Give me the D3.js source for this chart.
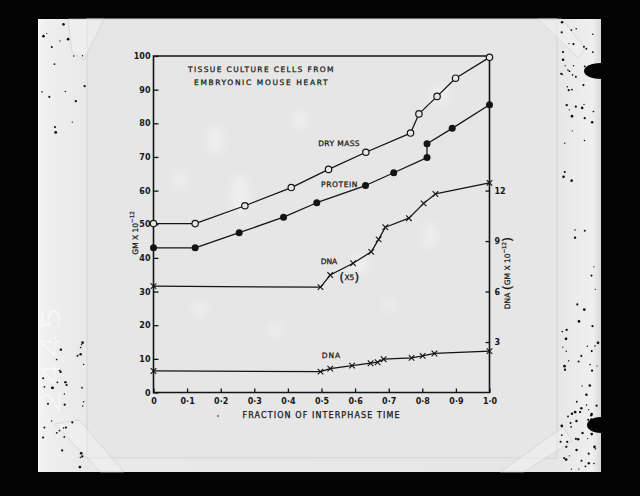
<!DOCTYPE html>
<html>
<head>
<meta charset="utf-8">
<script src="https://cdn.jsdelivr.net/npm/d3@7"></script>
<style>
  html, body { margin: 0; padding: 0; background: #000; }
  svg { display: block; }
  text { font-family: "DejaVu Sans", sans-serif; fill: #161616; }
  .lettering { stroke: #161616; stroke-width: 0.25px; }
</style>
</head>
<body>
<svg id="chart" width="640" height="496"></svg>
<script>
// Fraction of interphase time (x) and mass in GM x 10^-12 (y)
const dryMassT = [0, 0.124, 0.272, 0.41, 0.521, 0.632, 0.765, 0.79, 0.844, 0.899, 1.0];
const dryMassV = [50.2, 50.2, 55.5, 60.9, 66.3, 71.4, 77.1, 82.8, 88.0, 93.4, 99.6];

const proteinT = [0, 0.124, 0.255, 0.387, 0.486, 0.631, 0.715, 0.814, 0.814, 0.889, 1.0];
const proteinV = [43.0, 43.0, 47.5, 52.1, 56.4, 61.5, 65.3, 69.8, 73.9, 78.5, 85.5];

// DNA (x5) curve, read against the right-hand axis
const dnaX5T = [0, 0.497, 0.526, 0.594, 0.648, 0.67, 0.69, 0.76, 0.804, 0.839, 1.0];
const dnaX5V = [6.32, 6.26, 6.98, 7.68, 8.36, 9.10, 9.82, 10.36, 11.24, 11.80, 12.46];

// DNA curve, read against the left-hand axis
const dnaT = [0, 0.497, 0.526, 0.591, 0.646, 0.667, 0.685, 0.768, 0.801, 0.836, 1.0];
const dnaV = [6.4, 6.2, 7.1, 8.0, 8.7, 9.0, 9.9, 10.3, 10.9, 11.6, 12.3];

const xTicks = [0, 0.1, 0.2, 0.3, 0.4, 0.5, 0.6, 0.7, 0.8, 0.9, 1.0];
const leftTicks = [0, 10, 20, 30, 40, 50, 60, 70, 80, 90, 100];
const rightTicks = [3, 6, 9, 12];

const titleLines = ["TISSUE CULTURE CELLS FROM", "EMBRYONIC MOUSE HEART"];
const xTitle = "FRACTION OF INTERPHASE TIME";

const svg = d3.select("#chart");
const ink = "#141414";
const card = "#e6e6e6";

// ---------- photographic mount ----------
const defs = svg.append("defs");
const edge = defs.append("linearGradient").attr("id", "edge").attr("x1", 0).attr("x2", 1);
[[0, "#f6f6f6"], [0.015, "#efefef"], [0.08, "#e9e9e9"], [0.92, "#e6e6e6"], [0.985, "#efefef"], [1, "#d8d8d8"]]
  .forEach(([o, c]) => edge.append("stop").attr("offset", o).attr("stop-color", c));
defs.append("filter").attr("id", "soft").attr("x", "-50%").attr("y", "-50%").attr("width", "200%").attr("height", "200%")
  .append("feGaussianBlur").attr("stdDeviation", 4);
defs.append("filter").attr("id", "tiny")
  .append("feGaussianBlur").attr("stdDeviation", 0.35);

svg.append("rect").attr("width", 640).attr("height", 496).attr("fill", "#030303");
svg.append("rect").attr("x", 38).attr("y", 19).attr("width", 563).attr("height", 453).attr("fill", "url(#edge)");
// inner card
svg.append("rect").attr("x", 87).attr("y", 19).attr("width", 470).attr("height", 439)
  .attr("fill", card).attr("stroke", "#d4d4d4").attr("stroke-width", 1);

// tape pieces at the corners
const tape = svg.append("g").attr("fill", "#f4f4f4").attr("fill-opacity", 0.45)
  .attr("stroke", "#c9c9c9").attr("stroke-width", 0.7).attr("stroke-opacity", 0.8);
tape.append("path").attr("d", "M68,19 L104,19 L84,60 L72,52 Z");
tape.append("path").attr("d", "M538,19 L562,19 L585,48 L578,58 Z");
tape.append("path").attr("d", "M55,424 L79,420 L124,472 L100,472 Z");
tape.append("path").attr("d", "M563,427 L572,441 L524,472 L500,472 Z");

// specks on the side strips (deterministic sequence)
let seed = 7;
const rnd = () => { seed = (seed * 16807) % 2147483647; return (seed - 1) / 2147483646; };
const specks = svg.append("g").attr("fill", "#111").attr("filter", "url(#tiny)");
for (let i = 0; i < 55; i++) {
  const top = rnd() < 0.55;
  const x = 42 + rnd() * 44;
  const y = top ? 24 + rnd() * 110 : 340 + rnd() * 128;
  specks.append("circle").attr("cx", x).attr("cy", y).attr("r", 0.6 + rnd() * 0.8);
}
for (let i = 0; i < 110; i++) {
  const band = rnd();
  const x = 560 + rnd() * 39;
  const y = band < 0.4 ? 22 + rnd() * 110 : (band < 0.55 ? 130 + rnd() * 200 : 320 + rnd() * 150);
  specks.append("circle").attr("cx", x).attr("cy", y).attr("r", 0.6 + rnd() * 0.8);
}
// film-holder notches on the right edge
svg.append("path").attr("d", "M601,63 C590,63 584,67 584,71 C584,75 590,79 601,79 Z").attr("fill", "#030303");
svg.append("path").attr("d", "M601,417 C592,417 587,421 587,425 C587,429 592,433 601,433 Z").attr("fill", "#030303");

// handwritten plate number
svg.append("text")
  .attr("transform", "translate(60,358) rotate(-90) scale(1.6,1)")
  .attr("text-anchor", "middle")
  .attr("font-size", 24)
  .style("letter-spacing", "2px")
  .style("font-family", "'DejaVu Sans', sans-serif")
  .style("font-weight", 200)
  .style("fill", "#fafafa").style("fill-opacity", 0.9)
  .text("2445");

// faint light blotches on the card
const blotches = svg.append("g").attr("fill", "#ffffff").attr("fill-opacity", 0.35).attr("filter", "url(#soft)");
[[215, 140, 8, 14], [240, 195, 10, 18], [300, 120, 7, 10], [200, 310, 6, 9], [275, 330, 6, 8],
 [440, 95, 10, 9], [430, 235, 7, 12], [360, 265, 8, 10], [180, 180, 6, 10], [390, 305, 6, 6]]
  .forEach(([cx, cy, rx, ry]) => blotches.append("ellipse").attr("cx", cx).attr("cy", cy).attr("rx", rx).attr("ry", ry));

// ---------- chart ----------
const x = d3.scaleLinear().domain([0, 1]).range([153.5, 489.5]);
const yL = d3.scaleLinear().domain([0, 100]).range([392.5, 56]);
const yR = d3.scaleLinear().domain([0, 20]).range([392.5, 56]);

const g = svg.append("g");

// frame
g.append("path")
  .attr("d", `M${x(0)},${yL(0)} L${x(0)},${yL(100)} L${x(1)},${yL(100)} L${x(1)},${yL(0)} Z`)
  .attr("fill", "none").attr("stroke", ink).attr("stroke-width", 1.6);

const tickFmt = d => d === 0 ? "0" : d3.format(".1f")(d).replace(".", "·");

const ax = g.append("g").attr("transform", `translate(0,${yL(0)})`)
  .call(d3.axisBottom(x).tickValues(xTicks).tickFormat(tickFmt).tickSize(-4).tickSizeOuter(0).tickPadding(6));
const ayl = g.append("g").attr("transform", `translate(${x(0)},0)`)
  .call(d3.axisLeft(yL).tickValues(leftTicks).tickFormat(d3.format("d")).tickSize(-5).tickSizeOuter(0).tickPadding(3));
const ayr = g.append("g").attr("transform", `translate(${x(1)},0)`)
  .call(d3.axisRight(yR).tickValues(rightTicks).tickFormat(d3.format("d")).tickSize(-4).tickSizeOuter(0).tickPadding(5));
[ax, ayl, ayr].forEach(a => {
  a.select(".domain").remove();
  a.selectAll(".tick line").attr("stroke", ink).attr("stroke-width", 1.3);
  a.selectAll("text").attr("font-size", 8).attr("font-weight", "bold")
    .attr("font-family", "'DejaVu Sans', sans-serif").attr("fill", ink);
});

// series
const series = [
  { t: dryMassT, v: dryMassV, y: yL, mark: "open" },
  { t: proteinT, v: proteinV, y: yL, mark: "dot" },
  { t: dnaX5T, v: dnaX5V, y: yR, mark: "cross" },
  { t: dnaT, v: dnaV, y: yL, mark: "cross" }
];
const line = d3.line();
series.forEach(s => {
  const pts = s.t.map((t, i) => [x(t), s.y(s.v[i])]);
  g.append("path").attr("d", line(pts)).attr("fill", "none")
    .attr("stroke", ink).attr("stroke-width", 1.25).attr("stroke-linejoin", "round");
  const m = g.append("g");
  pts.forEach(([px, py]) => {
    if (s.mark === "open") {
      m.append("circle").attr("cx", px).attr("cy", py).attr("r", 3.2)
        .attr("fill", card).attr("stroke", ink).attr("stroke-width", 1.2);
    } else if (s.mark === "dot") {
      m.append("circle").attr("cx", px).attr("cy", py).attr("r", 3.5).attr("fill", ink);
    } else {
      const h = 2.8;
      m.append("path")
        .attr("d", `M${px - h},${py - h} L${px + h},${py + h} M${px + h},${py - h} L${px - h},${py + h}`)
        .attr("stroke", ink).attr("stroke-width", 1.1);
    }
  });
});

// lettering
function label(t, v, str, len, opts = {}) {
  const el = g.append("text").attr("class", "lettering").attr("x", x(t)).attr("y", yL(v))
    .attr("dominant-baseline", "central")
    .attr("text-anchor", opts.anchor || "start")
    .attr("font-size", opts.size || 7.5)
    .style("letter-spacing", "0.5px")
    .text(str);
  if (len) el.attr("textLength", len).attr("lengthAdjust", "spacing");
  return el;
}
label(0.32, 96.0, titleLines[0], 146, { anchor: "middle" });
label(0.32, 92.05, titleLines[1], 134, { anchor: "middle" });
label(0.49, 74.1, "DRY MASS", 42);
label(0.4985, 61.7, "PROTEIN", 37);
label(0.4976, 38.9, "DNA", 17);
label(0.5006, 10.9, "DNA", 19);

// "(X5)" with tall parentheses
const x5 = g.append("text").attr("class", "lettering").attr("x", x(0.553)).attr("y", yL(34.3))
  .attr("dominant-baseline", "central").attr("font-size", 7.5);
x5.append("tspan").attr("font-size", 13).text("(");
x5.append("tspan").text("X5");
x5.append("tspan").attr("font-size", 13).text(")");

// x-axis title
g.append("text").attr("class", "lettering").attr("x", (x(0) + x(1)) / 2 - 0.5).attr("y", 415)
  .attr("text-anchor", "middle").attr("dominant-baseline", "central")
  .attr("font-size", 8).attr("textLength", 157).attr("lengthAdjust", "spacing")
  .text(xTitle);
// small dot left of the x-axis title
g.append("circle").attr("cx", 218).attr("cy", 416).attr("r", 0.8).attr("fill", ink);

// left axis title
const lt = g.append("text").attr("class", "lettering").attr("transform", "translate(135,233) rotate(-90)")
  .attr("text-anchor", "middle").attr("dominant-baseline", "central").attr("font-size", 7.5);
lt.append("tspan").text("GM  X  10");
lt.append("tspan").attr("font-size", 5.5).attr("dy", -3.5).text("−12");

// right axis title
const rt = g.append("text").attr("class", "lettering").attr("transform", "translate(507,273) rotate(-90)")
  .attr("text-anchor", "middle").attr("dominant-baseline", "central").attr("font-size", 7.5);
rt.append("tspan").text("DNA ");
rt.append("tspan").attr("font-size", 13).text("(");
rt.append("tspan").text("GM  X  10");
rt.append("tspan").attr("font-size", 5.5).attr("dy", -3.5).text("−12");
rt.append("tspan").attr("font-size", 13).attr("dy", 3.5).text(")");
</script>
</body>
</html>
